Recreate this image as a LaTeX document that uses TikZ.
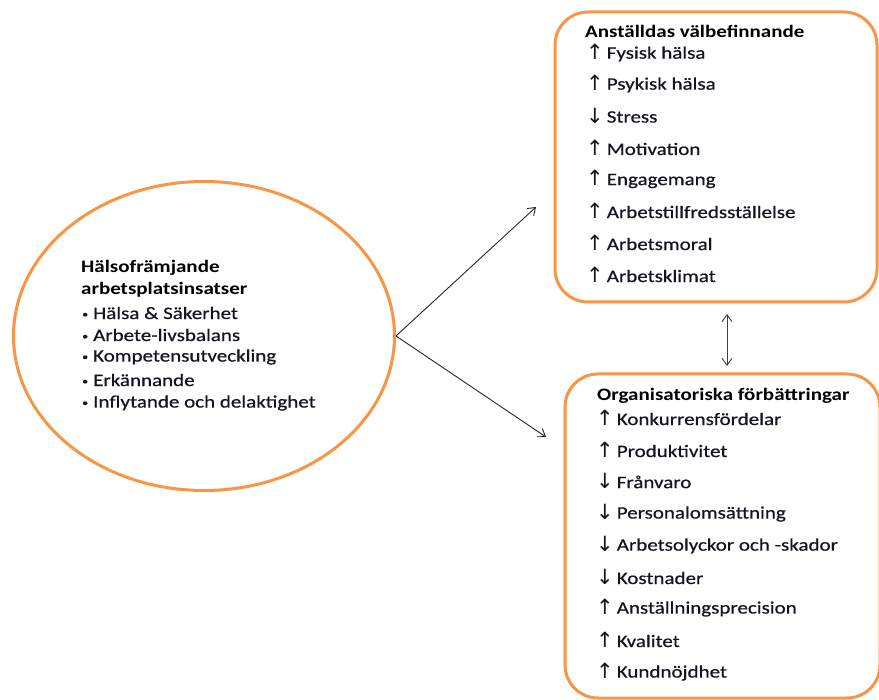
\documentclass[tikz,border=0pt]{standalone}
\usepackage{fontspec}
\setmainfont{Carlito}[FakeStretch=1.2,UprightFeatures={FakeBold=0.6}]
\newfontfamily\arr{DejaVu Sans}
\usetikzlibrary{arrows.meta,shapes.geometric}
\definecolor{orng}{RGB}{247,150,70}
\definecolor{txt}{RGB}{20,20,32}
\newcommand{\upa}{\smash{\raisebox{-0.5pt}{\arr\fontsize{21}{21}\selectfont ↑}}\kern 3pt}
\newcommand{\dna}{\smash{\raisebox{-0.5pt}{\arr\fontsize{21}{21}\selectfont ↓}}\kern 3pt}
\newcommand{\bul}{\raisebox{1.5pt}{\fontsize{10}{10}\selectfont •}\kern 5pt}
\begin{document}
\begin{tikzpicture}[x=1pt,y=-1pt,
  every node/.style={font=\fontsize{17.5}{20}\selectfont,text=txt},
  line/.style={anchor=west,inner sep=0pt},
  ttl/.style={anchor=west,inner sep=0pt,font=\fontsize{17.5}{20}\selectfont\bfseries,text=black},
  obox/.style={draw=orng,line width=3pt,rounded corners=33pt},
  conn/.style={draw=black!85,line width=0.9pt,-{Straight Barb[length=7pt,width=10pt]}}
]
\useasboundingbox (0,0) rectangle (879,700);
% ellipse
\node[draw=orng,line width=3pt,ellipse,minimum width=381pt,minimum height=309pt,inner sep=0pt] (ell) at (204,336) {};
\node[ttl] (e0) at (81,268) {Hälsofrämjande};
\node[ttl] (e1) at (81,290) {arbetsplatsinsatser};
\node[line] (e2) at (82,313) {\bul Hälsa \& Säkerhet};
\node[line] (e3) at (82,335) {\bul Arbete-livsbalans};
\node[line] (e4) at (82,357) {\bul Kompetensutveckling};
\node[line] (e5) at (82,380) {\bul Erkännande};
\node[line] (e6) at (82,403) {\bul Inflytande och delaktighet};
% boxes
\draw[obox] (555,12) rectangle (877,302);
\draw[obox] (565,374) rectangle (880,698);
\node[ttl] (a0) at (585,31) {Anställdas välbefinnande};
\node[line] (a1) at (586,54) {\upa Fysisk hälsa};
\node[line] (a2) at (586,85) {\upa Psykisk hälsa};
\node[line] (a3) at (586,117) {\dna Stress};
\node[line] (a4) at (586,149) {\upa Motivation};
\node[line] (a5) at (586,181) {\upa Engagemang};
\node[line] (a6) at (586,212) {\upa Arbetstillfredsställelse};
\node[line] (a7) at (586,244) {\upa Arbetsmoral};
\node[line] (a8) at (586,276) {\upa Arbetsklimat};
\node[ttl] (b0) at (597,396) {Organisatoriska förbättringar};
\node[line] (b1) at (596,419) {\upa Konkurrensfördelar};
\node[line] (b2) at (596,451) {\upa Produktivitet};
\node[line] (b3) at (596,482) {\dna Frånvaro};
\node[line] (b4) at (596,514) {\dna Personalomsättning};
\node[line] (b5) at (596,546) {\dna Arbetsolyckor och -skador};
\node[line] (b6) at (596,578) {\dna Kostnader};
\node[line] (b7) at (596,609) {\upa Anställningsprecision};
\node[line] (b8) at (596,641) {\upa Kvalitet};
\node[line] (b9) at (596,673) {\upa Kundnöjdhet};
% connectors
\coordinate (t1) at (536,207);
\coordinate (t2) at (546,437);
\coordinate (d1) at (727,314);
\coordinate (d2) at (727,366);
\draw[conn] (ell.east) -- (t1);
\draw[conn] (ell.east) -- (t2);
\draw[draw=black!75,line width=0.9pt,{Straight Barb[length=7pt,width=10pt]}-{Straight Barb[length=7pt,width=10pt]}] (d1) -- (d2);
\end{tikzpicture}
\end{document}
